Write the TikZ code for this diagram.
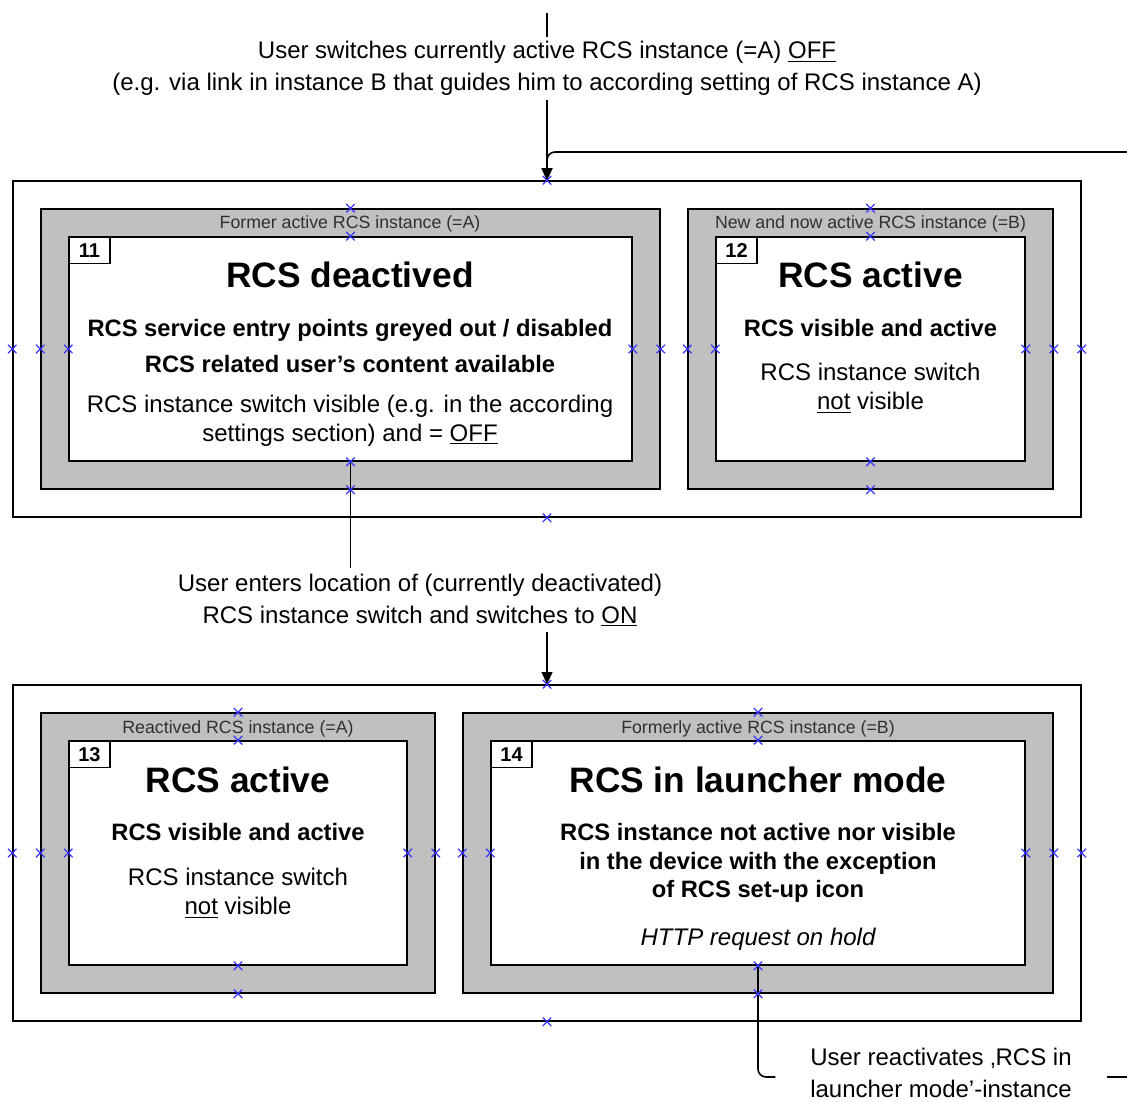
\documentclass[tikz,border=0pt]{standalone}
\usepackage{fontspec}
\setmainfont{Liberation Sans}
\usetikzlibrary{arrows.meta,fit}
\definecolor{shade}{HTML}{C0C0C0}
\definecolor{cpblue}{RGB}{55,55,255}
\definecolor{tagtext}{HTML}{303030}
\pgfdeclarelayer{front}
\pgfsetlayers{main,front}
% underline with a firmer rule than \underline
\newsavebox\undlbox
\newcommand\undl[1]{\sbox\undlbox{#1}\rlap{\rule[-2.4pt]{\wd\undlbox}{0.9pt}}\usebox\undlbox}
\tikzset{
  boxline/.style={draw, line width=1.2pt, inner sep=0pt},
  outerbox/.style={boxline},
  framebox/.style={boxline, fill=shade},
  innerbox/.style={boxline, fill=white},
  numbox/.style={boxline, fill=white, anchor=north west,
    minimum width=30.75pt, minimum height=20pt,
    font=\bfseries\fontsize{15}{17}\selectfont},
  tag/.style={anchor=base, inner sep=0pt, text=tagtext,
    font=\fontsize{13.3}{15}\selectfont},
  title/.style={anchor=base, inner sep=0pt,
    font=\bfseries\fontsize{26.5}{30}\selectfont},
  boldline/.style={anchor=base, inner sep=0pt,
    font=\bfseries\fontsize{17.8}{21.4}\selectfont},
  plainline/.style={anchor=base, inner sep=0pt,
    font=\fontsize{18}{21.75}\selectfont},
  italline/.style={plainline, font=\itshape\fontsize{18}{21.75}\selectfont},
  cnlabel/.style={inner sep=0pt, align=center,
    font=\fontsize{18}{24}\selectfont},
  conn/.style={line width=1.2pt},
  arrowline/.style={conn, -{Triangle[length=9pt,width=8pt]}},
  cpmark/.pic={\draw[cpblue, line width=0.9pt]
    (-3.2pt,-3.2pt) -- (3.2pt,3.2pt) (-3.2pt,3.2pt) -- (3.2pt,-3.2pt);}
}
\begin{document}
\begin{tikzpicture}[x=0.75pt,y=-0.75pt]
\useasboundingbox (0,0) rectangle (1127,1101);

% ---------- upper state group ----------
\node[outerbox, fit={(13,181) (1081,517)}] (outer1) {};
\node[framebox, fit={(41,209) (660,489)}] (frameA) {};
\node[innerbox, fit={(69,237) (632,461)}] (inner11) {};
\node[numbox] (n11) at (inner11.north west) {11};
\node[tag] (tagA) at (350,228.4) {Former active RCS instance (=A)};
\node[title] (t11) at (350,287) {RCS deactived};
\node[boldline] (b11a) at (350,336.5) {RCS service entry points greyed out / disabled};
\node[boldline] (b11b) at (350,372) {RCS related user’s content available};
\node[plainline] (p11a) at (350,412) {RCS instance switch visible (e.g. in the according};
\node[plainline] (p11b) at (350,441) {settings section) and = \undl{OFF}};

\node[framebox, fit={(688,209) (1053,489)}] (frameB) {};
\node[innerbox, fit={(716,237) (1025,461)}] (inner12) {};
\node[numbox] (n12) at (inner12.north west) {12};
\node[tag] (tagB) at (870.5,228.4) {New and now active RCS instance (=B)};
\node[title] (t12) at (870.5,287) {RCS active};
\node[boldline] (b12) at (870.5,336.5) {RCS visible and active};
\node[plainline] (p12a) at (870.5,380.5) {RCS instance switch};
\node[plainline] (p12b) at (870.5,409.5) {\undl{not} visible};

% ---------- lower state group ----------
\node[outerbox, fit={(13,685) (1081,1021)}] (outer2) {};
\node[framebox, fit={(41,713) (435,993)}] (frameC) {};
\node[innerbox, fit={(69,741) (407,965)}] (inner13) {};
\node[numbox] (n13) at (inner13.north west) {13};
\node[tag] (tagC) at (238,733.4) {Reactived RCS instance (=A)};
\node[title] (t13) at (238,792.5) {RCS active};
\node[boldline] (b13) at (238,840.6) {RCS visible and active};
\node[plainline] (p13a) at (238,885.6) {RCS instance switch};
\node[plainline] (p13b) at (238,914.6) {\undl{not} visible};

\node[framebox, fit={(463,713) (1053,993)}] (frameD) {};
\node[innerbox, fit={(491,741) (1025,965)}] (inner14) {};
\node[numbox] (n14) at (inner14.north west) {14};
\node[tag] (tagD) at (758,733.4) {Formerly active RCS instance (=B)};
\node[title] (t14) at (758,792.5) {RCS in launcher mode};
\node[boldline] (b14a) at (758,840.6) {RCS instance not active nor visible};
\node[boldline] (b14b) at (758,869.6) {in the device with the exception};
\node[boldline] (b14c) at (758,897.6) {of RCS set-up icon};
\node[italline] (i14) at (758,945.6) {HTTP request on hold};

% ---------- transition labels ----------
\node[cnlabel, minimum height=47.25pt] (lbl1) at (547,68.5)
  {User switches currently active RCS instance (=A) \undl{OFF}\\
   (e.g. via link in instance B that guides him to according setting of RCS instance A)};
\node[cnlabel, minimum height=48pt] (lbl2) at (420,600)
  {User enters location of (currently deactivated)\\
   RCS instance switch and switches to \undl{ON}};
\node[cnlabel, minimum width=248pt] (lbl3) at (941,1073)
  {User reactivates ‚RCS in\\launcher mode’-instance};

% ---------- transitions ----------
\coordinate (topIn) at (547,13);
\coordinate (sideIn) at (1127,152);
\coordinate (botOut) at (1127,1077);
\draw[conn] (topIn) -- (lbl1.north);
\draw[arrowline] (lbl1.south) -- (outer1.north);
\draw[arrowline, rounded corners=6pt] (sideIn) -| (outer1.north);
\draw[conn] (inner11.south) -- (inner11.south |- lbl2.north);
\draw[arrowline] (outer2.north |- lbl2.south) -- (outer2.north);
\draw[conn, rounded corners=6pt] (inner14.south) |- (lbl3.west |- botOut);
\draw[conn] (lbl3.east |- botOut) -- (botOut);

% ---------- connection points on every box side ----------
\begin{pgfonlayer}{front}
\foreach \b in {outer1,frameA,inner11,frameB,inner12,outer2,frameC,inner13,frameD,inner14}
  \foreach \a in {north,south,east,west}
    \pic at (\b.\a) {cpmark};
\end{pgfonlayer}
\end{tikzpicture}
\end{document}
